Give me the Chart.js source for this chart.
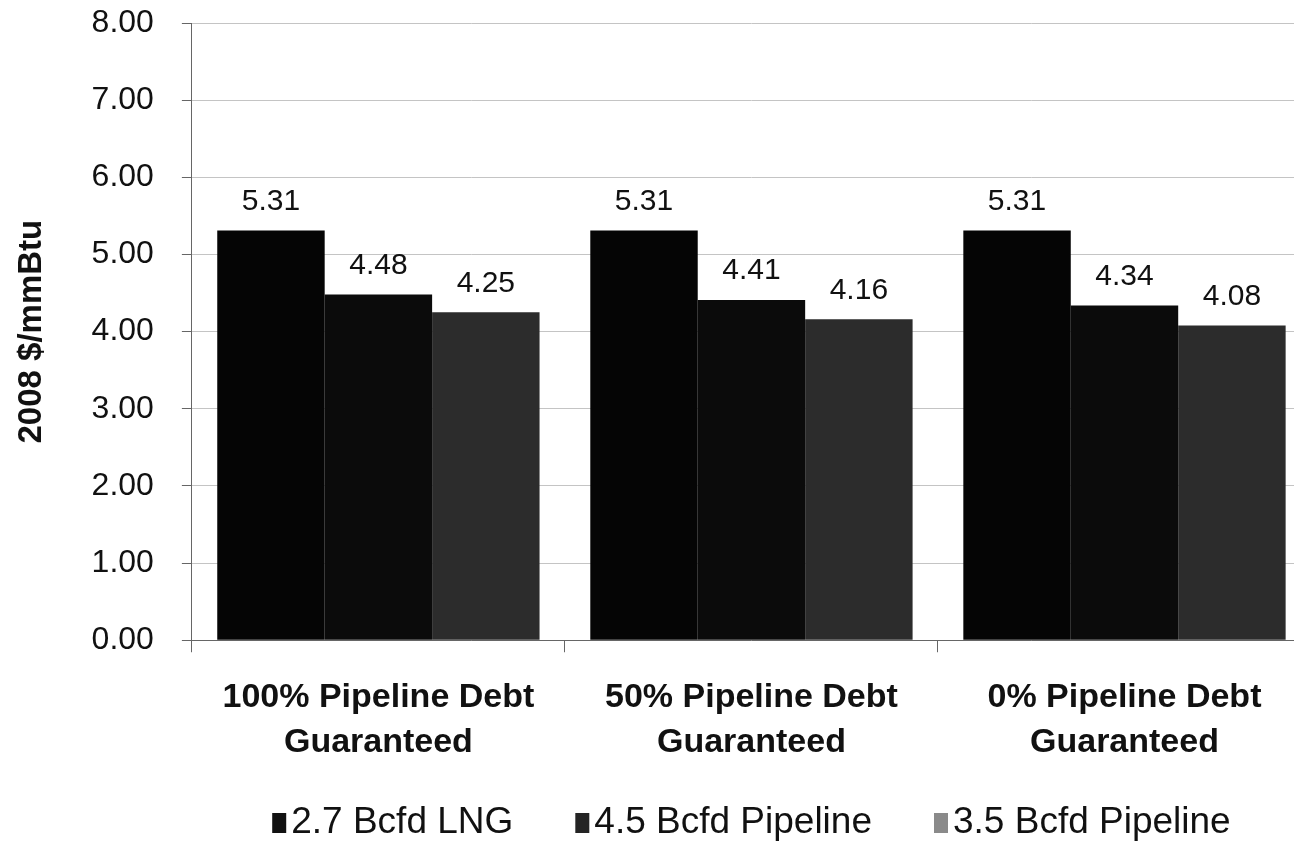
<!DOCTYPE html>
<html>
<head>
<meta charset="utf-8">
<script src="https://cdn.jsdelivr.net/npm/chart.js@4"></script>
<style>
    html, body { margin: 0; padding: 0; background: #fff; overflow: hidden; }
    #wrap { width: 1322px; height: 843px; }
</style>
</head>
<body>
<div id="wrap"><canvas id="myBarChart" width="1322" height="843"></canvas></div>
<script>
// data
var categories = [
    ['100% Pipeline Debt', 'Guaranteed'],
    ['50% Pipeline Debt', 'Guaranteed'],
    ['0% Pipeline Debt', 'Guaranteed']
];
var seriesNames = ['2.7 Bcfd LNG', '4.5 Bcfd Pipeline', '3.5 Bcfd Pipeline'];
var lngValues = [5.31, 5.31, 5.31];
var pipe45Values = [4.48, 4.41, 4.34];
var pipe35Values = [4.25, 4.16, 4.08];
var yTicks = [0, 1, 2, 3, 4, 5, 6, 7, 8];

var barColors = ['#050505', '#0b0b0b', '#2c2c2c'];
var legendColors = ['#111111', '#242424', '#8a8a8a'];
var fontFamily = '"Liberation Sans", Arial, sans-serif';

// value labels above each bar
var barValueLabels = {
    id: 'barValueLabels',
    afterDatasetsDraw: function (chart) {
        var ctx = chart.ctx;
        ctx.save();
        ctx.font = '30px ' + fontFamily;
        ctx.fillStyle = '#111';
        ctx.textAlign = 'center';
        ctx.textBaseline = 'middle';
        chart.data.datasets.forEach(function (ds, i) {
            chart.getDatasetMeta(i).data.forEach(function (bar, j) {
                ctx.fillText(ds.data[j].toFixed(2), bar.x, bar.y - 29);
            });
        });
        ctx.restore();
    }
};

// legend row under the axis labels, centred on the plot area
var bottomLegend = {
    id: 'bottomLegend',
    afterDraw: function (chart) {
        var ctx = chart.ctx;
        var area = chart.chartArea;
        var boxW = 14, boxH = 20, textGap = 5, itemGap = 62, y = 823;
        ctx.save();
        ctx.font = '37px ' + fontFamily;
        ctx.textBaseline = 'middle';
        var widths = chart.data.datasets.map(function (ds) {
            return boxW + textGap + ctx.measureText(ds.label).width;
        });
        var total = widths.reduce(function (a, b) { return a + b; }, 0) + itemGap * (widths.length - 1);
        var x = (area.left + area.right) / 2 - total / 2;
        chart.data.datasets.forEach(function (ds, i) {
            ctx.fillStyle = legendColors[i];
            ctx.fillRect(x, y - boxH / 2, boxW, boxH);
            ctx.fillStyle = '#111';
            ctx.fillText(ds.label, x + boxW + textGap, y);
            x += widths[i] + itemGap;
        });
        ctx.restore();
    }
};

var ctx = document.getElementById('myBarChart').getContext('2d');
var myBarChart = new Chart(ctx, {
    type: 'bar',
    data: {
        labels: categories,
        datasets: [
            { label: seriesNames[0], data: lngValues, backgroundColor: barColors[0] },
            { label: seriesNames[1], data: pipe45Values, backgroundColor: barColors[1] },
            { label: seriesNames[2], data: pipe35Values, backgroundColor: barColors[2] }
        ]
    },
    options: {
        responsive: false,
        animation: false,
        layout: { padding: { top: 23, left: 8, right: 11, bottom: 55 } },
        datasets: {
            bar: { categoryPercentage: 0.864, barPercentage: 1.0 }
        },
        scales: {
            x: {
                grid: {
                    display: true,
                    drawOnChartArea: false,
                    offset: true,
                    tickLength: 12,
                    color: '#666'
                },
                border: { color: '#666' },
                ticks: {
                    color: '#111',
                    padding: 23,
                    maxRotation: 0,
                    font: { family: fontFamily, size: 34, weight: 'bold', lineHeight: 1.32 }
                }
            },
            y: {
                min: 0,
                max: 8,
                afterBuildTicks: function (axis) {
                    axis.ticks = yTicks.map(function (v) { return { value: v }; });
                },
                afterFit: function (axis) {
                    // the top label may sit in the layout padding
                    axis.paddingTop = 0;
                    axis.paddingBottom = 0;
                },
                grid: { color: '#c4c4c4', tickLength: 10, tickColor: '#666' },
                border: { color: '#666' },
                ticks: {
                    color: '#111',
                    padding: 28,
                    font: { family: fontFamily, size: 32 },
                    callback: function (v) { return Number(v).toFixed(2); }
                },
                title: {
                    display: true,
                    text: '2008 $/mmBtu',
                    color: '#111',
                    padding: { top: 4, bottom: 12 },
                    font: { family: fontFamily, size: 33, weight: 'bold' }
                }
            }
        },
        plugins: {
            tooltip: { enabled: false },
            legend: { display: false }
        }
    },
    plugins: [barValueLabels, bottomLegend]
});
</script>
</body>
</html>
